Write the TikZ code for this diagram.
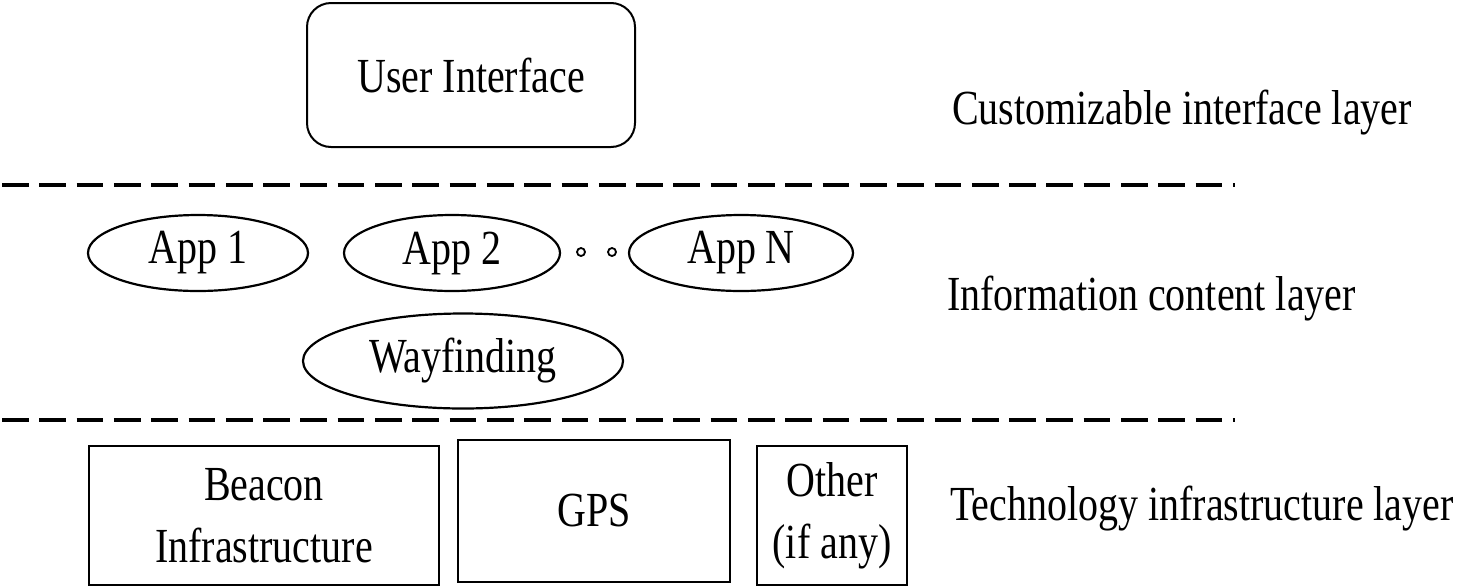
\documentclass[tikz,border=0pt]{standalone}
\usepackage{fontspec}
\setmainfont{Liberation Serif}[FakeStretch=0.816]
\usetikzlibrary{shapes.geometric}
\begin{document}
\begin{tikzpicture}[x=1pt,y=-1pt,
  txt/.style={font=\fontsize{49}{62}\selectfont, inner sep=0pt, align=center},
  uibox/.style={txt, draw, line width=2pt, rounded corners=24pt, minimum width=328pt, minimum height=144pt},
  appell/.style={txt, draw, ellipse, line width=2.2pt, minimum height=76pt},
  infbox/.style={txt, draw, line width=2pt},
  tinydot/.style={draw, circle, line width=1.8pt, minimum size=8pt, inner sep=0pt},
  sep/.style={line width=4pt, dash pattern=on 26.7pt off 10.6pt},
  lbl/.style={txt, anchor=base west}]
\useasboundingbox (0,0) rectangle (1466,587);

\node[uibox] (ui) at (471,75) {User Interface};
\node[lbl] (l1) at (952,124) {Customizable interface layer};

\coordinate (d1s) at (2,185);
\coordinate (d1e) at (1235,185);
\draw[sep] (d1s) -- (d1e);

\node[appell, minimum width=220pt] (app1) at (198,253) {App 1};
\node[appell, minimum width=216pt] (app2) at (452,253) {App 2};
\node[tinydot] (dot1) at (581,252) {};
\node[tinydot] (dot2) at (612,252) {};
\node[appell, minimum width=224pt] (appn) at (741,253) {App N};
\node[appell, minimum width=320pt, minimum height=95pt] (way) at (463,361) {Wayfinding};
\node[lbl] (l2) at (947,310) {Information content layer};

\coordinate (d2s) at (2,420);
\coordinate (d2e) at (1235,420);
\draw[sep] (d2s) -- (d2e);

\node[infbox, minimum width=350pt, minimum height=139pt] (beacon) at (264,515.5) {Beacon\\Infrastructure};
\node[infbox, minimum width=272pt, minimum height=142pt] (gps) at (594,511) {GPS};
\node[infbox, minimum width=150pt, minimum height=139pt] (other) at (832,515.5) {Other\\(if any)};
\node[lbl] (l3) at (950,520) {Technology infrastructure layer};
\end{tikzpicture}
\end{document}
